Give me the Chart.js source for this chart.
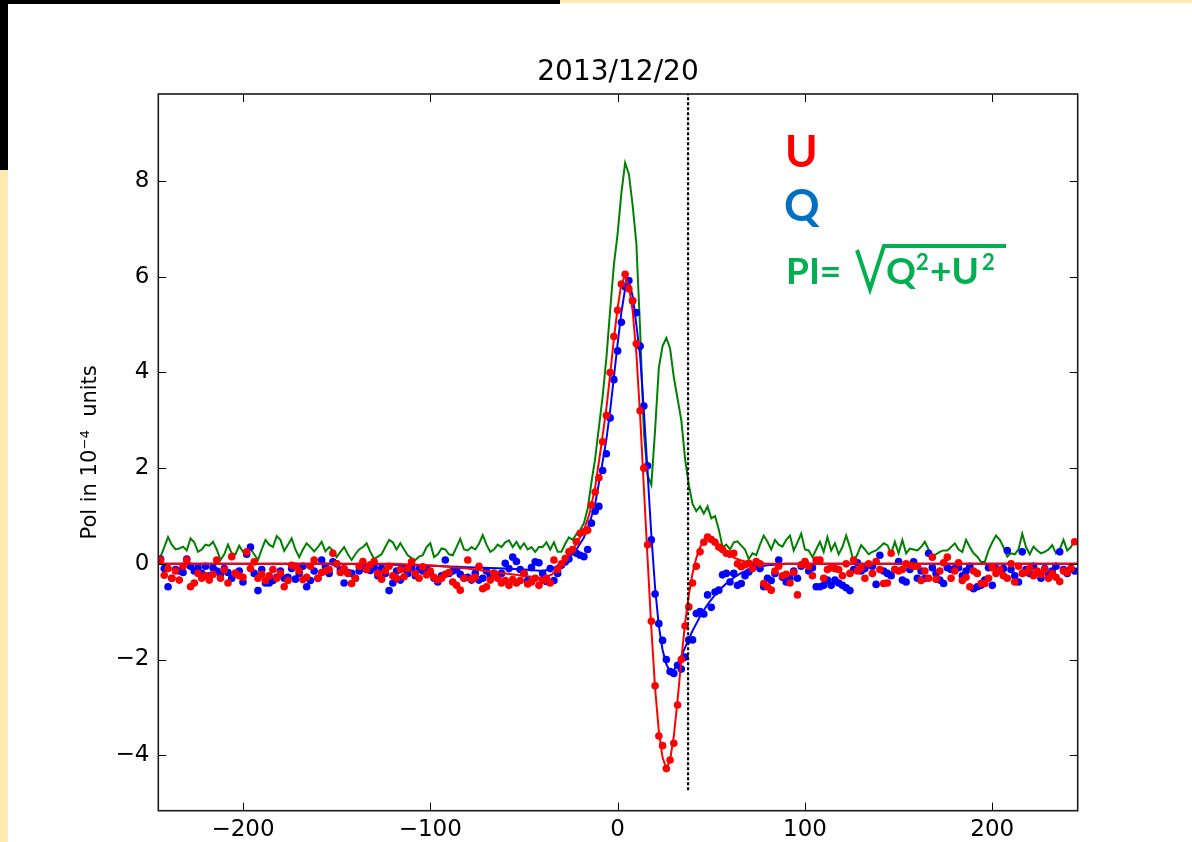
<!DOCTYPE html>
<html>
<head>
<meta charset="utf-8">
<title>2013/12/20</title>
<script src="https://cdn.jsdelivr.net/npm/chart.js@4.4.0/dist/chart.umd.min.js"></script>
<style>
  html, body { margin: 0; padding: 0; background: #fff; }
  #wrap { position: relative; width: 1192px; height: 842px; overflow: hidden; }
  .band { position: absolute; }
  canvas { position: absolute; left: 0; top: 0; }
</style>
</head>
<body>
<div id="wrap">
  <div class="band" style="left:0;top:0;width:560px;height:4px;background:#000"></div>
  <div class="band" style="left:560px;top:0;width:632px;height:3px;background:#ffeab2"></div>
  <div class="band" style="left:0;top:0;width:8px;height:170px;background:#000"></div>
  <div class="band" style="left:0;top:170px;width:8px;height:672px;background:#ffeab2"></div>
  <canvas id="pol-chart" width="1192" height="842"></canvas>
</div>
<script>
const chartTitle = '2013/12/20';

// velocity channels (x axis)
const vel = [
  -244, -242, -240, -238, -236, -234, -232, -230, -228, -226,
  -224, -222, -220, -218, -216, -214, -212, -210, -208, -206,
  -204, -202, -200, -198, -196, -194, -192, -190, -188, -186,
  -184, -182, -180, -178, -176, -174, -172, -170, -168, -166,
  -164, -162, -160, -158, -156, -154, -152, -150, -148, -146,
  -144, -142, -140, -138, -136, -134, -132, -130, -128, -126,
  -124, -122, -120, -118, -116, -114, -112, -110, -108, -106,
  -104, -102, -100, -98, -96, -94, -92, -90, -88, -86,
  -84, -82, -80, -78, -76, -74, -72, -70, -68, -66,
  -64, -62, -60, -58, -56, -54, -52, -50, -48, -46,
  -44, -42, -40, -38, -36, -34, -32, -30, -28, -26,
  -24, -22, -20, -18, -16, -14, -12, -10, -8, -6,
  -4, -2, 0, 2, 4, 6, 8, 10, 12, 14,
  16, 18, 20, 22, 24, 26, 28, 30, 32, 34,
  36, 38, 40, 42, 44, 46, 48, 50, 52, 54,
  56, 58, 60, 62, 64, 66, 68, 70, 72, 74,
  76, 78, 80, 82, 84, 86, 88, 90, 92, 94,
  96, 98, 100, 102, 104, 106, 108, 110, 112, 114,
  116, 118, 120, 122, 124, 126, 128, 130, 132, 134,
  136, 138, 140, 142, 144, 146, 148, 150, 152, 154,
  156, 158, 160, 162, 164, 166, 168, 170, 172, 174,
  176, 178, 180, 182, 184, 186, 188, 190, 192, 194,
  196, 198, 200, 202, 204, 206, 208, 210, 212, 214,
  216, 218, 220, 222, 224, 226, 228, 230, 232, 234,
  236, 238, 240, 242, 244
];

// Stokes U (red dots)
const uPol = [
  0.08, -0.24, -0.10, -0.30, -0.15, -0.34, -0.05, 0.08, -0.48, -0.40,
  -0.20, -0.30, -0.25, -0.34, -0.22, 0.08, -0.30, -0.13, -0.40, 0.15,
  -0.20, -0.25, -0.28, 0.25, -0.10, 0.04, -0.30, -0.22, -0.35, -0.25,
  -0.12, -0.30, -0.20, -0.48, -0.35, -0.03, -0.05, -0.15, -0.33, -0.28,
  -0.05, 0.08, -0.30, -0.18, -0.15, -0.12, 0.22, 0.00, -0.18, -0.10,
  -0.20, -0.41, -0.30, -0.05, 0.05, -0.12, -0.02, 0.05, -0.20, -0.32,
  -0.15, -0.05, -0.25, -0.30, -0.12, -0.27, -0.10, 0.04, -0.20, -0.30,
  -0.06, -0.23, -0.15, -0.28, -0.34, -0.30, -0.22, -0.18, -0.38, -0.45,
  -0.55, -0.30, 0.08, -0.32, -0.28, -0.05, -0.52, -0.48, -0.34, -0.20,
  -0.30, -0.40, -0.35, -0.45, -0.33, -0.40, -0.35, -0.20, -0.42, -0.38,
  -0.30, -0.45, -0.35, -0.30, -0.40, 0.08, -0.12, 0.00, 0.11, 0.25,
  0.30, 0.46, 0.64, 0.67, 0.70, 1.23, 1.50, 1.80, 2.55, 3.10,
  4.00, 4.75, 5.30, 5.85, 6.05, 5.75, 5.50, 4.60, 3.20, 2.00,
  0.40, -1.20, -2.55, -3.60, -3.80, -4.28, -4.10, -3.75, -2.95, -2.00,
  -1.30, -0.90, -0.40, -0.05, 0.25, 0.45, 0.56, 0.51, 0.45, 0.35,
  0.30, 0.22, 0.20, 0.22, 0.00, -0.06, -0.02, 0.01, -0.10, 0.05,
  0.00, -0.41, -0.48, -0.55, -0.15, -0.05, -0.25, -0.22, -0.40, -0.18,
  -0.65, -0.02, 0.05, -0.05, -0.25, 0.08, 0.08, -0.30, -0.12, -0.08,
  -0.10, -0.12, -0.25, 0.00, -0.20, 0.08, -0.15, -0.08, -0.30, 0.00,
  -0.20, 0.05, -0.12, -0.41, -0.40, 0.22, -0.12, -0.15, -0.12, 0.00,
  -0.03, -0.05, -0.05, -0.35, -0.15, -0.30, 0.14, -0.32, -0.15, 0.02,
  0.14, -0.30, -0.15, 0.02, -0.35, -0.28, -0.48, -0.15, -0.20, -0.41,
  -0.41, -0.30, -0.08, -0.20, -0.12, -0.25, -0.30, 0.00, -0.38, -0.05,
  -0.20, -0.18, -0.10, -0.25, -0.15, -0.22, -0.12, -0.30, -0.20, -0.28,
  -0.37, -0.15, -0.18, -0.10, 0.46
];

// Stokes Q (blue dots)
const qPol = [
  0.10, -0.10, -0.48, -0.30, -0.12, -0.15, -0.18, 0.10, -0.05, -0.15,
  -0.08, -0.20, -0.05, -0.25, -0.08, -0.15, -0.22, -0.10, -0.18, -0.30,
  -0.20, -0.15, -0.38, 0.20, 0.35, -0.20, -0.56, -0.12, -0.40, -0.40,
  -0.35, -0.28, -0.15, -0.30, -0.28, -0.10, -0.32, -0.20, -0.05, -0.48,
  -0.35, -0.15, -0.30, 0.08, -0.05, -0.20, 0.04, 0.00, -0.12, -0.40,
  -0.18, -0.20, -0.30, -0.15, -0.05, -0.12, -0.14, -0.08, -0.25, -0.10,
  -0.20, -0.56, -0.40, -0.15, -0.34, -0.10, -0.20, -0.08, -0.25, -0.12,
  -0.15, -0.10, -0.18, -0.30, -0.38, -0.25, 0.08, -0.20, -0.15, -0.12,
  -0.22, -0.30, -0.28, -0.34, -0.20, -0.34, -0.30, -0.15, -0.25, -0.20,
  -0.28, -0.20, 0.01, -0.10, 0.14, 0.05, -0.12, -0.20, -0.35, -0.08,
  0.04, 0.02, -0.20, -0.37, -0.10, -0.35, -0.20, -0.03, 0.04, 0.10,
  0.29, 0.22, 0.18, 0.15, 0.30, 0.85, 1.10, 1.20, 1.95, 2.30,
  3.05, 3.85, 4.45, 5.05, 5.79, 5.92, 5.50, 5.25, 4.55, 3.30,
  2.05, 0.50, -0.63, -1.25, -1.60, -2.00, -2.25, -2.29, -2.12, -2.20,
  -1.95, -1.59, -1.59, -1.04, -1.00, -1.05, -0.65, -0.91, -0.59, -0.55,
  -0.23, -0.20, -0.38, -0.20, -0.45, -0.41, -0.25, -0.17, -0.05, -0.03,
  -0.10, -0.48, -0.30, -0.35, -0.20, 0.08, -0.28, -0.38, -0.30, -0.15,
  -0.30, -0.05, 0.02, -0.15, -0.08, -0.48, -0.48, -0.45, -0.34, -0.45,
  -0.34, -0.40, -0.45, -0.50, -0.56, -0.12, 0.02, -0.15, -0.10, -0.02,
  -0.05, -0.43, 0.18, -0.15, -0.20, -0.25, -0.12, 0.05, -0.34, -0.38,
  -0.12, 0.04, -0.30, -0.15, -0.30, 0.22, -0.08, -0.20, -0.34, -0.41,
  -0.08, -0.12, -0.10, -0.08, -0.25, -0.15, -0.05, -0.52, -0.48, -0.45,
  -0.34, -0.08, -0.45, -0.10, -0.15, -0.10, 0.28, -0.12, -0.25, -0.38,
  0.25, -0.12, -0.20, -0.05, -0.18, -0.30, -0.10, -0.22, -0.15, -0.05,
  0.25, -0.12, -0.20, -0.10, -0.15
];

// polarised intensity PI (green line)
const piPol = [
  0.15, 0.35, 0.56, 0.40, 0.30, 0.32, 0.36, 0.28, 0.53, 0.45,
  0.25, 0.30, 0.40, 0.38, 0.46, 0.30, 0.08, 0.20, 0.40, 0.22,
  0.20, 0.38, 0.25, 0.30, 0.31, 0.20, 0.08, 0.30, 0.50, 0.40,
  0.35, 0.58, 0.50, 0.27, 0.40, 0.53, 0.30, 0.14, 0.30, 0.43,
  0.35, 0.26, 0.35, 0.46, 0.26, 0.35, 0.28, 0.14, 0.25, 0.35,
  0.20, 0.08, 0.20, 0.30, 0.35, 0.43, 0.25, 0.10, 0.15, 0.20,
  0.35, 0.50, 0.45, 0.30, 0.43, 0.30, 0.18, 0.12, 0.08, 0.15,
  0.18, 0.35, 0.43, 0.14, 0.20, 0.32, 0.30, 0.20, 0.18, 0.35,
  0.52, 0.30, 0.28, 0.35, 0.30, 0.42, 0.60, 0.40, 0.25, 0.30,
  0.40, 0.35, 0.45, 0.49, 0.35, 0.46, 0.32, 0.43, 0.30, 0.35,
  0.25, 0.35, 0.35, 0.45, 0.30, 0.45, 0.25, 0.25, 0.42, 0.55,
  0.50, 0.62, 0.70, 0.85, 1.15, 1.70, 2.20, 2.85, 3.50, 4.30,
  5.30, 6.25, 6.90, 7.75, 8.38, 8.15, 7.50, 6.70, 4.90, 2.75,
  1.85, 1.65, 2.80, 4.10, 4.55, 4.72, 4.50, 3.90, 3.45, 3.00,
  2.20, 1.65, 1.25, 1.10, 1.20, 1.05, 1.20, 0.95, 1.00, 0.72,
  0.35, 0.40, 0.30, 0.45, 0.47, 0.38, 0.30, 0.10, 0.22, 0.18,
  0.40, 0.59, 0.46, 0.30, 0.50, 0.40, 0.36, 0.50, 0.59, 0.28,
  0.45, 0.63, 0.30, 0.28, 0.14, 0.30, 0.46, 0.25, 0.56, 0.28,
  0.43, 0.20, 0.35, 0.59, 0.35, 0.04, 0.20, 0.39, 0.30, 0.20,
  0.25, 0.28, 0.35, 0.43, 0.39, 0.22, 0.46, 0.22, 0.50, 0.22,
  0.32, 0.30, 0.28, 0.35, 0.46, 0.30, 0.15, 0.20, 0.25, 0.28,
  0.28, 0.35, 0.43, 0.30, 0.25, 0.50, 0.35, 0.22, 0.15, 0.04,
  0.04, 0.28, 0.45, 0.59, 0.50, 0.35, 0.15, 0.22, 0.20, 0.30,
  0.63, 0.35, 0.20, 0.36, 0.28, 0.22, 0.25, 0.30, 0.39, 0.22,
  0.30, 0.50, 0.28, 0.35, 0.50
];

// model fits for U and Q
const fitVel = [
  -245, -200, -150, -120, -100, -80, -60, -50, -40, -35,
  -30, -26, -22, -18, -15, -12, -9, -6, -4, -2,
  0, 2, 4, 6, 8, 10, 12, 14, 16, 18,
  20, 22, 24, 26, 28, 30, 32, 34, 36, 38,
  40, 42, 44, 46, 48, 50, 52, 55, 58, 62,
  66, 70, 75, 80, 90, 120, 160, 200, 246
];
const uFit = [
  0, 0, 0, 0, -0.03, -0.10, -0.20, -0.25, -0.30, -0.22,
  0.00, 0.20, 0.42, 0.70, 1.05, 1.60, 2.40, 3.25, 3.95, 4.70,
  5.35, 5.85, 6.02, 5.80, 5.30, 4.40, 3.10, 1.60, 0.10, -1.35,
  -2.60, -3.50, -4.05, -4.28, -4.10, -3.60, -2.85, -2.00, -1.25, -0.65,
  -0.20, 0.12, 0.35, 0.48, 0.53, 0.50, 0.44, 0.33, 0.23, 0.13,
  0.07, 0.03, 0.01, 0, 0, 0, 0, 0, 0
];
const qFit = [
  0, 0, 0, -0.02, -0.04, -0.07, -0.10, -0.12, -0.15, -0.10,
  0.00, 0.12, 0.30, 0.55, 0.85, 1.25, 1.90, 2.60, 3.20, 3.90,
  4.60, 5.25, 5.75, 5.90, 5.60, 5.00, 4.35, 3.20, 1.90, 0.60,
  -0.50, -1.30, -1.80, -2.10, -2.25, -2.22, -2.10, -1.93, -1.75, -1.57,
  -1.40, -1.25, -1.10, -0.97, -0.85, -0.75, -0.65, -0.52, -0.41, -0.29,
  -0.19, -0.12, -0.06, -0.03, 0, 0, 0, 0, 0
];

// dotted marker
const markerVel = 37.6;
const markerRange = [-4.73, 9.82];

const xTicks = [-200, -100, 0, 100, 200];
const yTicks = [-4, -2, 0, 2, 4, 6, 8];

const pts = (xs, ys) => xs.map((x, i) => ({ x: x, y: ys[i] }));
const minus = v => String(v).replace('-', '\u2212');

// box with inward ticks on all sides, like the matplotlib frame, plus the title
const frameTicks = {
  id: 'frameTicks',
  afterDatasetsDraw(chart) {
    const { ctx, chartArea: a, scales } = chart;
    ctx.save();
    ctx.strokeStyle = '#000';
    ctx.lineWidth = 1;
    ctx.beginPath();
    xTicks.forEach(v => {
      const px = Math.round(scales.x.getPixelForValue(v)) + 0.5;
      ctx.moveTo(px, a.bottom); ctx.lineTo(px, a.bottom - 8);
      ctx.moveTo(px, a.top); ctx.lineTo(px, a.top + 8);
    });
    yTicks.forEach(v => {
      const py = Math.round(scales.y.getPixelForValue(v)) + 0.5;
      ctx.moveTo(a.left, py); ctx.lineTo(a.left + 8, py);
      ctx.moveTo(a.right, py); ctx.lineTo(a.right - 8, py);
    });
    ctx.stroke();
    ctx.lineWidth = 1.6;
    ctx.strokeStyle = '#1a1a1a';
    ctx.strokeRect(a.left, a.top, a.right - a.left, a.bottom - a.top);

    // title centred over the axes box
    ctx.fillStyle = '#000';
    ctx.font = '28px "DejaVu Sans"';
    ctx.textAlign = 'center';
    ctx.textBaseline = 'middle';
    ctx.fillText(chartTitle, (a.left + a.right) / 2, a.top - 21);
    ctx.restore();
  }
};

// coloured labels in the top right
const stokesLabels = {
  id: 'stokesLabels',
  afterDraw(chart) {
    const ctx = chart.ctx;
    const big = 'bold 44px Lato, "Open Sans", sans-serif';
    const mid = 'bold 37px Lato, "Open Sans", sans-serif';
    const sup = 'bold 22px Lato, "Open Sans", sans-serif';
    ctx.save();
    ctx.textBaseline = 'alphabetic';
    ctx.textAlign = 'left';
    ctx.font = big;
    ctx.fillStyle = '#ff0000';
    ctx.fillText('U', 785, 167);
    ctx.fillStyle = '#0070c0';
    ctx.fillText('Q', 784, 221);

    ctx.fillStyle = '#00b050';
    ctx.strokeStyle = '#00b050';
    ctx.font = mid;
    ctx.fillText('PI=', 786, 284);
    // radical sign with overbar
    ctx.lineWidth = 4;
    ctx.lineJoin = 'miter';
    ctx.beginPath();
    ctx.moveTo(857, 250);
    ctx.lineTo(870, 289);
    ctx.lineTo(884, 246);
    ctx.lineTo(1006, 246);
    ctx.stroke();
    ctx.fillText('Q', 886, 284);
    ctx.font = sup;
    ctx.fillText('2', 916, 270);
    ctx.font = mid;
    ctx.fillText('+U', 930, 284);
    ctx.font = sup;
    ctx.fillText('2', 982, 270);
    ctx.restore();
  }
};

const ctx = document.getElementById('pol-chart').getContext('2d');
new Chart(ctx, {
  type: 'scatter',
  data: {
    datasets: [
      {
        label: 'marker',
        data: [{ x: markerVel, y: markerRange[0] }, { x: markerVel, y: markerRange[1] }],
        showLine: true,
        borderColor: '#000',
        borderWidth: 2.2,
        borderDash: [3, 2],
        pointRadius: 0,
        order: 0,
      },
      {
        label: 'U fit',
        data: pts(fitVel, uFit),
        showLine: true,
        borderColor: '#ff0000',
        borderWidth: 2,
        pointRadius: 0,
        order: 1,
      },
      {
        label: 'U',
        data: pts(vel, uPol),
        backgroundColor: '#ff0000',
        borderWidth: 0,
        pointRadius: 3.8,
        order: 2,
      },
      {
        label: 'Q fit',
        data: pts(fitVel, qFit),
        showLine: true,
        borderColor: '#0000ff',
        borderWidth: 2,
        pointRadius: 0,
        order: 3,
      },
      {
        label: 'Q',
        data: pts(vel, qPol),
        backgroundColor: '#0000ff',
        borderWidth: 0,
        pointRadius: 3.8,
        order: 4,
      },
      {
        label: 'PI',
        data: pts(vel, piPol),
        showLine: true,
        borderColor: '#008000',
        borderWidth: 2,
        pointRadius: 0,
        order: 5,
      },
    ],
  },
  options: {
    responsive: false,
    animation: false,
    devicePixelRatio: 1,
    layout: { padding: { top: 94, right: 114.3, bottom: 0, left: 0 } },
    plugins: {
      legend: { display: false },
      tooltip: { enabled: false },
      title: { display: false },
    },
    scales: {
      x: {
        type: 'linear',
        min: -245.2,
        max: 245.6,
        afterBuildTicks: scale => { scale.ticks = xTicks.map(v => ({ value: v })); },
        afterFit: scale => { scale.height = 31.3; },
        grid: { display: false, drawTicks: false },
        border: { display: false },
        ticks: {
          color: '#000',
          padding: 6,
          maxRotation: 0,
          font: { family: '"DejaVu Sans"', size: 23 },
          callback: v => minus(v),
        },
      },
      y: {
        type: 'linear',
        min: -5.16,
        max: 9.82,
        afterBuildTicks: scale => { scale.ticks = yTicks.map(v => ({ value: v })); },
        afterFit: scale => { scale.width = 158.3; },
        grid: { display: false, drawTicks: false },
        border: { display: false },
        ticks: {
          color: '#000',
          padding: 9,
          font: { family: '"DejaVu Sans"', size: 23 },
          callback: v => minus(v),
        },
        title: {
          display: true,
          text: 'Pol in 10\u207B\u2074  units',
          color: '#000',
          font: { family: '"DejaVu Sans"', size: 21 },
          padding: { top: 78, bottom: 0 },
        },
      },
    },
  },
  plugins: [frameTicks, stokesLabels],
});
</script>
</body>
</html>
